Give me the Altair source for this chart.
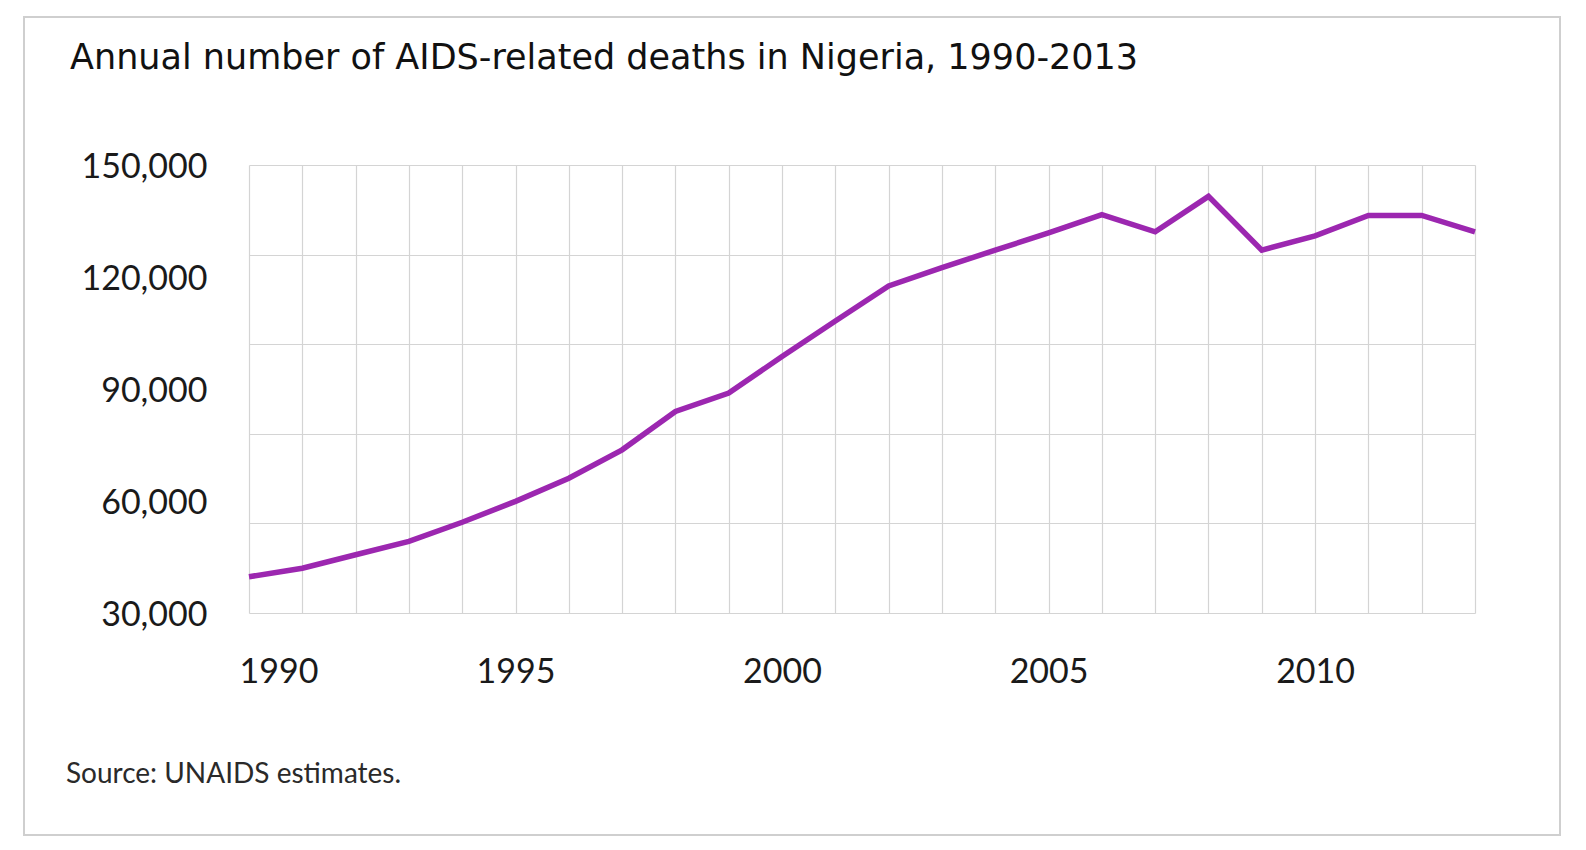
import altair as alt
import pandas as pd

years = list(range(1990, 2014))
deaths = [39700, 42000, 45600, 49200, 54300, 59900, 66100, 73700, 84000, 88900,
          98700, 108200, 117600, 122500, 127200, 131800, 136700, 132100, 141600,
          127200, 131000, 136500, 136500, 132100]

title_text = "Annual number of AIDS-related deaths in Nigeria, 1990-2013"
source_text = "Source: UNAIDS estimates."
y_label_values = [30000, 60000, 90000, 120000, 150000]
y_grid_values = [30000, 54000, 78000, 102000, 126000, 150000]
x_label_years = [1990, 1995, 2000, 2005, 2010]

df = pd.DataFrame({"year": years, "deaths": deaths})
one = pd.DataFrame({"k": [0]})

FONT = "Lato"

y_values = sorted(set(y_label_values + y_grid_values))

line = alt.Chart(df).mark_line(color="#9c27b0", strokeWidth=5.5, strokeJoin="miter").encode(
    x=alt.X("year:Q",
            scale=alt.Scale(domain=[1990, 2013], nice=False, zero=False),
            axis=alt.Axis(values=years, format="d", title=None, grid=True,
                          gridColor="#d4d4d4", gridWidth=1.2,
                          ticks=False, tickSize=0, domain=False,
                          labelExpr="datum.value % 5 === 0 ? datum.label : ''",
                          labelFont=FONT, labelFontSize=34, labelColor="#1a1a1a",
                          labelPadding=42, labelFlush=True, labelFlushOffset=10)),
    y=alt.Y("deaths:Q",
            scale=alt.Scale(domain=[30000, 150000], nice=False, zero=False),
            axis=alt.Axis(values=y_values, format=",d", title=None, grid=True,
                          gridColor="#d4d4d4", gridWidth=1.2,
                          gridOpacity={"condition": {"test": "datum.value % 24000 === 6000", "value": 1}, "value": 0},
                          ticks=False, tickSize=0, domain=False,
                          labelExpr="datum.value % 30000 === 0 ? datum.label : ''",
                          labelFont=FONT, labelFontSize=34, labelColor="#1a1a1a",
                          labelPadding=42, labelOffset=2)),
)

frame = alt.Chart(one).mark_rect(fillOpacity=0, stroke="#cfcfcf", strokeWidth=2).encode(
    x=alt.value(-225), x2=alt.value(1311), y=alt.value(-148), y2=alt.value(670)
)

title = alt.Chart(one).mark_text(align="left", baseline="alphabetic", font="DejaVu Sans",
                                 fontSize=35, color="#111111").encode(
    x=alt.value(-179), y=alt.value(-96), text=alt.value(title_text)
)

source = alt.Chart(one).mark_text(align="left", baseline="alphabetic", font=FONT,
                                  fontSize=28, color="#2a2a2a").encode(
    x=alt.value(-183), y=alt.value(618), text=alt.value(source_text)
)

chart = alt.layer(frame, line, title, source).properties(
    width=1226, height=448,
    padding={"left": 15, "top": 8, "right": 0, "bottom": 0},
    background="white",
).configure_view(stroke=None)

chart.save("out.html", embed_options={"renderer": "svg", "actions": False})
